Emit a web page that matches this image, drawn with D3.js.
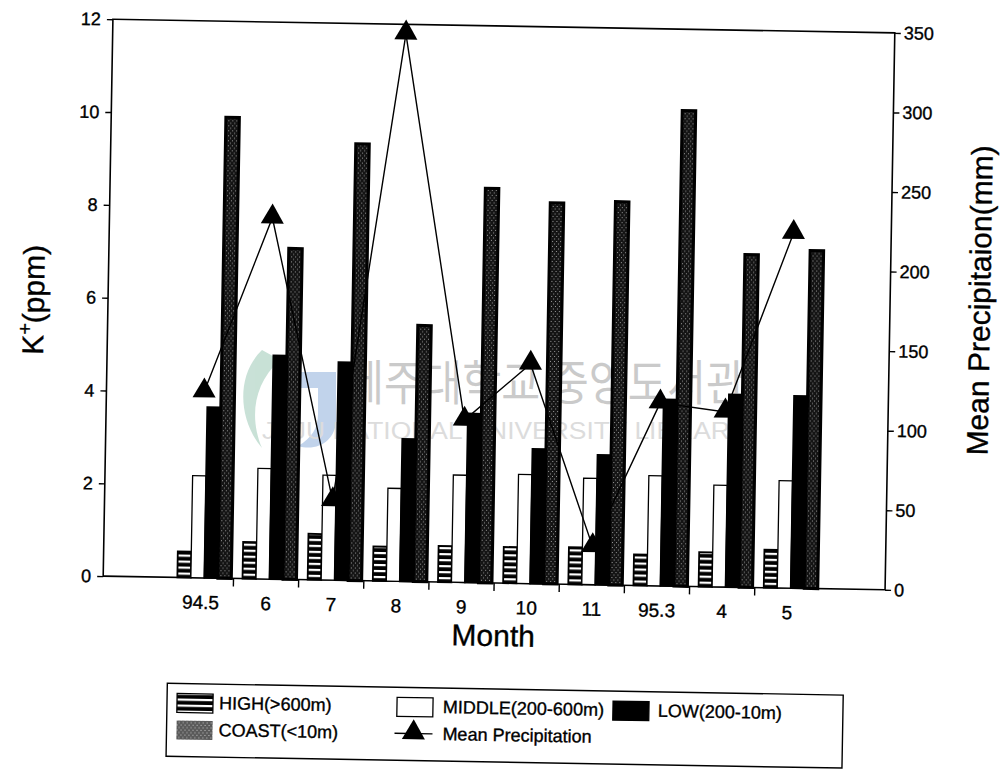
<!DOCTYPE html>
<html lang="en">
<head>
  <meta charset="UTF-8">
  <title>K+ by month</title>
</head>
<body style="margin: 0; background-color: #fff">
  <style>
    svg text{font-family: "Liberation Sans", Arial, Helvetica, sans-serif; fill: #000; stroke: #000; stroke-width: 0.35px;}
    .wm text{stroke: none;}
    .wm .kr{font-family: "Noto Sans CJK KR", sans-serif;}
  </style>
  <div id="chart"></div>
  <script src="https://d3js.org/d3.v7.min.js"></script>

  <script>
  // DATA
  const months = ["94.5", "6", "7", "8", "9", "10", "11", "95.3", "4", "5"];
  const seriesKeys = ["high", "middle", "low", "coast"];
  const legendLabels = ["HIGH(>600m)", "MIDDLE(200-600m)", "LOW(200-10m)", "COAST(<10m)", "Mean Precipitation"];
  const highK   = [0.56, 0.79, 0.99, 0.74, 0.78, 0.78, 0.80, 0.67, 0.74, 0.82];
  const middleK = [2.20, 2.38, 2.26, 2.00, 2.31, 2.35, 2.29, 2.37, 2.19, 2.31];
  const lowK    = [3.68, 4.82, 4.70, 3.07, 3.64, 2.90, 2.80, 4.02, 4.15, 4.14];
  const coastK  = [9.93, 7.13, 9.41, 5.52, 8.50, 8.21, 8.26, 10.25, 7.17, 7.28];
  const precip  = [117, 227, 50, 344, 102, 138, 24, 115, 110, 223];
  const kTicks = [0, 2, 4, 6, 8, 10, 12];
  const precipTicks = [0, 50, 100, 150, 200, 250, 300, 350];

  // CONSTANTS
  const width = 1000;
  const height = 770;
  const pLeft = 108, pRight = 890, pTop = 26, pBottom = 583;
  const band = (pRight - pLeft) / 12;
  const tilt = 1; // the scan is turned a little

  const svg = d3.select("#chart").append("svg")
    .attr("width", width)
    .attr("height", height);

  // PATTERNS
  const defs = svg.append("defs");
  const hatch = defs.append("pattern").attr("id", "hatch")
    .attr("patternUnits", "userSpaceOnUse").attr("width", 8).attr("height", 6);
  hatch.append("rect").attr("width", 8).attr("height", 6).attr("fill", "#000");
  hatch.append("rect").attr("y", 2).attr("width", 8).attr("height", 2.2).attr("fill", "#fff");

  function speckle(id, base, dot) {
    const p = defs.append("pattern").attr("id", id)
      .attr("patternUnits", "userSpaceOnUse").attr("width", 4).attr("height", 5);
    p.append("rect").attr("width", 4).attr("height", 5).attr("fill", base);
    p.append("rect").attr("width", 1).attr("height", 1).attr("fill", dot);
    p.append("rect").attr("x", 2).attr("y", 2.5).attr("width", 1).attr("height", 1).attr("fill", dot);
  }
  speckle("speck", "#141414", "#9a9a9a");
  speckle("speckLight", "#5a5a5a", "#c8c8c8");

  const fills = {high: "url(#hatch)", middle: "#fff", low: "#000", coast: "url(#speck)"};

  // WATERMARK (library stamp, behind the marks)
  const wm = svg.append("g").attr("class", "wm").attr("opacity", 0.55);
  wm.append("path")
    .attr("d", "M262,350 C236,375 238,420 262,448 C250,420 252,385 280,360 Z")
    .attr("fill", "#9cc9b6");
  wm.append("path")
    .attr("d", "M300,372 L336,372 L336,420 C336,440 318,452 298,446 C312,438 318,428 318,414 L318,388 L300,388 Z")
    .attr("fill", "#8fb0dc");
  wm.append("text").attr("class", "kr")
    .attr("x", 345).attr("y", 400)
    .attr("textLength", 400).attr("lengthAdjust", "spacingAndGlyphs")
    .style("font-size", "48px").style("fill", "#a0a0a0")
    .text("제주대학교 중앙도서관");
  wm.append("text")
    .attr("x", 262).attr("y", 439)
    .attr("textLength", 485).attr("lengthAdjust", "spacingAndGlyphs")
    .style("font-size", "23px").style("fill", "#c0c0c0")
    .text("JEJU NATIONAL UNIVERSITY LIBRARY");

  const g = svg.append("g").attr("transform", `rotate(${tilt}, 498, 304)`);

  // SCALES
  const x = d3.scaleBand().domain(months).range([pLeft + band, pRight - band]);
  const xSub = d3.scaleBand().domain(seriesKeys).range([9, 63]);
  const yK = d3.scaleLinear().domain([0, 12]).range([pBottom, pTop]);
  const yP = d3.scaleLinear().domain([0, 350]).range([pBottom, pTop]);

  const rows = months.map((m, i) => ({
    month: m, high: highK[i], middle: middleK[i], low: lowK[i], coast: coastK[i], precip: precip[i]
  }));

  // FRAME + AXES
  g.append("rect")
    .attr("x", pLeft).attr("y", pTop)
    .attr("width", pRight - pLeft).attr("height", pBottom - pTop)
    .attr("fill", "none").attr("stroke", "#000").attr("stroke-width", 1.6);

  const axL = g.append("g").attr("transform", `translate(${pLeft},0)`)
    .call(d3.axisLeft(yK).tickValues(kTicks).tickSize(6).tickPadding(6));
  const axR = g.append("g").attr("transform", `translate(${pRight},0)`)
    .call(d3.axisRight(yP).tickValues(precipTicks).tickSize(6).tickPadding(3));
  [axL, axR].forEach(a => {
    a.select(".domain").remove();
    a.selectAll("line").attr("stroke-width", 1.4);
    a.selectAll("text").style("font-size", "18px").attr("fill", "#000");
  });

  // month dividers under the axis
  g.append("g").selectAll("line")
    .data(months.slice(1))
    .join("line")
    .attr("x1", d => x(d)).attr("x2", d => x(d))
    .attr("y1", pBottom).attr("y2", pBottom + 8)
    .attr("stroke", "#000").attr("stroke-width", 1.4);

  g.append("g").selectAll("text")
    .data(months)
    .join("text")
    .attr("x", d => x(d) + x.bandwidth() / 2)
    .attr("y", pBottom + 31)
    .attr("text-anchor", "middle")
    .style("font-size", "19px")
    .text(d => d);

  // AXIS TITLES
  g.append("text")
    .attr("x", (pLeft + pRight) / 2).attr("y", 646)
    .attr("text-anchor", "middle")
    .style("font-size", "30px")
    .text("Month");

  const yTitle = g.append("text")
    .attr("transform", "translate(44,308) rotate(-90)")
    .attr("text-anchor", "middle")
    .style("font-size", "30px");
  yTitle.append("tspan").text("K");
  yTitle.append("tspan").attr("dy", -12).style("font-size", "20px").text("+");
  yTitle.append("tspan").attr("dy", 12).text("(ppm)");

  g.append("text")
    .attr("transform", "translate(990,292) rotate(-90)")
    .attr("text-anchor", "middle")
    .style("font-size", "30px")
    .text("Mean Precipitaion(mm)");

  // BARS
  const groups = g.append("g").selectAll("g")
    .data(rows)
    .join("g")
    .attr("transform", d => `translate(${x(d.month)},0)`);

  groups.selectAll("rect")
    .data(d => seriesKeys.map(k => ({key: k, value: d[k]})))
    .join("rect")
    .attr("x", d => xSub(d.key))
    .attr("y", d => yK(d.value))
    .attr("width", xSub.bandwidth())
    .attr("height", d => pBottom - yK(d.value))
    .attr("fill", d => fills[d.key])
    .attr("stroke", "#000")
    .attr("stroke-width", d => d.key === "middle" ? 1.3 : d.key === "coast" ? 3 : 1.8);

  // PRECIPITATION LINE
  const cx = d => x(d.month) + x.bandwidth() / 2;
  g.append("path")
    .datum(rows)
    .attr("fill", "none")
    .attr("stroke", "#000")
    .attr("stroke-width", 1.4)
    .attr("d", d3.line().x(cx).y(d => yP(d.precip)));

  const tri = d3.symbol().type(d3.symbolTriangle).size(230);
  g.append("g").selectAll("path")
    .data(rows)
    .join("path")
    .attr("transform", d => `translate(${cx(d)},${yP(d.precip) - 1})`)
    .attr("d", tri)
    .attr("fill", "#000");

  // LEGEND
  const lg = g.append("g").style("font-size", "18px");
  lg.append("rect")
    .attr("x", 174).attr("y", 689).attr("width", 676).attr("height", 73)
    .attr("fill", "none").attr("stroke", "#000").attr("stroke-width", 1.4);

  const legendItems = [
    {key: "high", label: legendLabels[0], sx: 184, tx: 226, row: 0},
    {key: "middle", label: legendLabels[1], sx: 404, tx: 450, row: 0},
    {key: "low", label: legendLabels[2], sx: 620, tx: 665, row: 0},
    {key: "coast", label: legendLabels[3], sx: 184, tx: 226, row: 1},
    {key: "precip", label: legendLabels[4], sx: 402, tx: 450, row: 1}
  ];
  const rowY = [699, 726];

  legendItems.forEach(it => {
    const y0 = rowY[it.row];
    if (it.key === "precip") {
      lg.append("line")
        .attr("x1", it.sx).attr("x2", it.sx + 38)
        .attr("y1", y0 + 9).attr("y2", y0 + 9)
        .attr("stroke", "#000").attr("stroke-width", 1.4);
      lg.append("path")
        .attr("transform", `translate(${it.sx + 19},${y0 + 8})`)
        .attr("d", tri).attr("fill", "#000");
    } else {
      lg.append("rect")
        .attr("x", it.sx).attr("y", y0)
        .attr("width", 36).attr("height", 19)
        .attr("fill", it.key === "coast" ? "url(#speckLight)" : fills[it.key])
        .attr("stroke", "#000").attr("stroke-width", it.key === "coast" ? 0 : 1.3);
    }
    lg.append("text")
      .attr("x", it.tx).attr("y", y0 + 15)
      .text(it.label);
  });
  </script>
</body>
</html>
